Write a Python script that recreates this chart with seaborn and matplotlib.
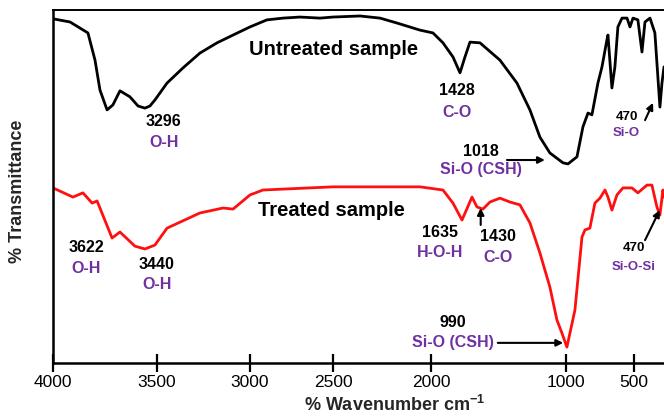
import numpy as np
import pandas as pd
import matplotlib
matplotlib.use("Agg")
import matplotlib.pyplot as plt
import seaborn as sns

sns.set_style("white")
plt.rcParams["font.family"] = ["Liberation Sans", "DejaVu Sans"]
plt.rcParams["mathtext.fontset"] = "custom"
plt.rcParams["mathtext.rm"] = "Liberation Sans"
plt.rcParams["mathtext.bf"] = "Liberation Sans:bold"

# spectra (wavenumber cm-1, % transmittance in arbitrary units)
wn_untreated = [4000, 3918, 3832, 3798, 3774, 3740, 3712, 3678, 3630, 3591, 3558, 3534,
                3510, 3446, 3360, 3269, 3177, 3091, 3000, 2898, 2801, 2699, 2578, 2500,
                2362, 2260, 2173, 2056, 1985, 1911, 1837, 1785, 1748, 1711, 1637, 1489,
                1363, 1267, 1193, 1119, 1022, 985, 919, 875, 838, 809, 765, 735, 699, 691,
                662, 640, 618, 588, 551, 529, 507, 471, 441, 419, 382, 346, 324, 309, 294,
                279]
t_untreated = [97.5, 96.6, 93.5, 85.8, 77.3, 71.7, 73.1, 77.1, 75.4, 72.8, 72.2, 72.8,
               74.5, 79.3, 83.6, 87.8, 90.7, 92.9, 95.2, 97.2, 97.7, 98.0, 97.7, 98.0,
               98.3, 97.7, 96.3, 94.3, 93.5, 90.7, 86.7, 82.2, 86.7, 90.9, 90.7, 85.8,
               79.3, 71.7, 64.0, 59.5, 56.7, 56.4, 58.4, 66.9, 70.8, 70.3, 79.3, 83.9,
               91.5, 92.9, 77.9, 83.9, 95.2, 97.7, 97.7, 95.2, 97.7, 97.2, 88.1, 96.6,
               97.7, 93.5, 81.0, 72.5, 79.3, 83.9]

wn_treated = [4000, 3904, 3856, 3812, 3788, 3716, 3678, 3606, 3558, 3510, 3446, 3269,
              3145, 3091, 3000, 2922, 2500, 2056, 1911, 1837, 1770, 1696, 1659, 1615,
              1563, 1489, 1415, 1341, 1267, 1193, 1119, 1067, 1030, 993, 934, 882, 860,
              824, 787, 750, 713, 691, 662, 625, 581, 515, 471, 404, 368, 331, 309, 287,
              279]
t_treated = [49.6, 47.0, 48.2, 45.3, 45.9, 35.4, 37.1, 33.1, 32.3, 33.4, 38.2, 42.5,
             43.9, 43.6, 47.6, 49.0, 49.9, 49.9, 49.0, 45.3, 40.5, 47.0, 44.2, 43.6,
             45.6, 46.7, 45.6, 44.8, 39.7, 31.2, 21.5, 12.2, 8.5, 4.5, 15.0, 35.7, 37.7,
             38.2, 45.3, 46.7, 49.0, 47.0, 43.3, 47.6, 49.6, 49.6, 48.2, 50.4, 50.4,
             44.2, 41.9, 49.0, 47.0]

xticks = [4000, 3500, 3000, 2500, 2000, 1000, 500]

purple = "#7030A0"

df = pd.concat([
    pd.DataFrame({"wn": wn_untreated, "T": t_untreated, "sample": "Untreated"}),
    pd.DataFrame({"wn": wn_treated, "T": t_treated, "sample": "Treated"}),
])

# the original axis is stretched unevenly between the ticks
knot_wn = [0, 500, 1000, 2000, 2500, 3000, 3500, 4000]
knot_pos = [0, 68, 136, 271, 369, 452, 545, 649]


def fwd(w):
    return np.interp(w, knot_wn, knot_pos)


def inv(p):
    return np.interp(p, knot_pos, knot_wn)


fig = plt.figure(figsize=(6.64, 4.18), dpi=100)
ax = fig.add_axes([0.0798, 0.1316, 0.9202, 0.8445])
ax.set_xscale("function", functions=(fwd, inv))

sns.lineplot(data=df, x="wn", y="T", hue="sample",
             palette={"Untreated": "black", "Treated": "#FF1010"},
             estimator=None, sort=False, legend=False, lw=2, ax=ax,
             solid_joinstyle="round", solid_capstyle="round")

ax.set_xlim(4000, 279)
ax.set_ylim(0, 100)
ax.set_xticks(xticks)
ax.set_xticklabels([str(t) for t in xticks])
ax.set_yticks([])
ax.set_xlabel("")
ax.set_ylabel("")
ax.tick_params(axis="x", bottom=True, direction="inout", length=13, width=1.6,
               labelsize=12.5, pad=2, colors="black")
ax.spines["right"].set_visible(False)
for s in ["left", "bottom"]:
    ax.spines[s].set_linewidth(1.8)
ax.spines["top"].set_linewidth(1.4)
for s in ax.spines.values():
    s.set_color("black")

fig.text(0.595, 0.031, r"% Wavenumber cm$^{\mathbf{-1}}$", fontsize=13,
         fontweight="bold", ha="center", va="center")
fig.text(0.027, 0.543, "% Transmittance", fontsize=13, fontweight="bold",
         rotation=90, ha="center", va="center")

ax.text(0.460, 0.887, "Untreated sample", transform=ax.transAxes, fontsize=14.5,
        fontweight="bold", ha="center", va="center", color="black")
ax.text(0.455, 0.433, "Treated sample", transform=ax.transAxes, fontsize=14.5,
        fontweight="bold", ha="center", va="center", color="black")

labels = [
    ("3296", "O-H", 0.181, 0.683, 0.626, 11.5),
    ("1428", "C-O", 0.661, 0.771, 0.711, 11.5),
    ("1018", "Si-O (CSH)", 0.700, 0.598, 0.547, 11.5),
    ("470", "Si-O", 0.939, 0.697, 0.652, 9.5),
    ("3622", "O-H", 0.054, 0.326, 0.269, 11.5),
    ("3440", "O-H", 0.170, 0.278, 0.221, 11.5),
    ("1635", "H-O-H", 0.633, 0.371, 0.314, 11.5),
    ("1430", "C-O", 0.728, 0.357, 0.300, 11.5),
    ("990", "Si-O (CSH)", 0.655, 0.116, 0.059, 11.5),
    ("470", "Si-O-Si", 0.950, 0.326, 0.272, 9.5),
]
for num, grp, fx, fy1, fy2, fs in labels:
    ax.text(fx, fy1, num, transform=ax.transAxes, fontsize=fs, fontweight="bold",
            ha="center", va="center", color="black")
    ax.text(fx, fy2, grp, transform=ax.transAxes, fontsize=fs, fontweight="bold",
            ha="center", va="center", color=purple)

arrows = [
    ((0.743, 0.575), (0.805, 0.575)),
    ((0.969, 0.688), (0.982, 0.737)),
    ((0.700, 0.391), (0.700, 0.439)),
    ((0.728, 0.057), (0.835, 0.057)),
    ((0.969, 0.348), (0.993, 0.433)),
]
for start, end in arrows:
    ax.annotate("", xy=end, xytext=start, xycoords="axes fraction",
                textcoords="axes fraction",
                arrowprops=dict(arrowstyle="-|>", color="black", lw=1.5,
                                mutation_scale=10, shrinkA=0, shrinkB=0))

fig.savefig("out.png", dpi=100)
